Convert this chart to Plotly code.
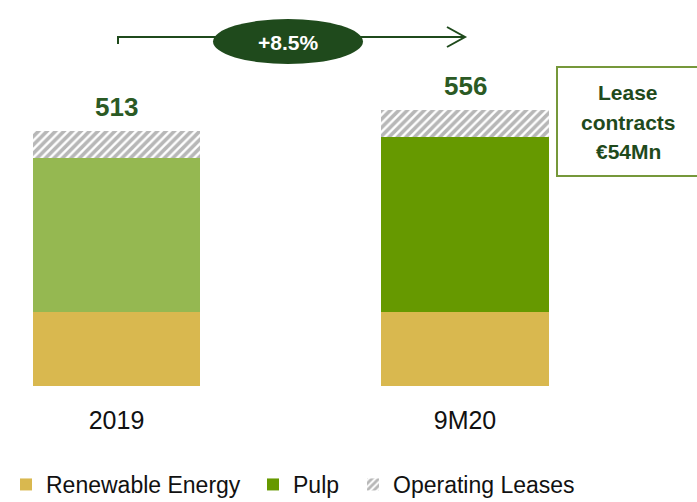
import plotly.graph_objects as go

# ---- data ----
categories = ["2019", "9M20"]
renewable_energy = [148, 148]
pulp = [311, 354]
operating_leases = [54, 54]
growth_label = "+8.5%"
lease_note = ["Lease", "contracts", "€54Mn"]

# ---- styles ----
W, H = 697, 502
PLOT_BOTTOM = 386  # pixel row of the value-0 baseline
C_RENEW = "#D9B84F"
C_PULP_2019 = "#95B851"
C_PULP = "#669900"
C_HATCH = "#707070"
C_DARK = "#1F4A1C"
C_LABEL = "#2B5A24"
C_BOX = "#76983A"
FONT = "Liberation Sans, Arial, sans-serif"


def px(x):
    return x / W


def py(y):
    return (PLOT_BOTTOM - y) / PLOT_BOTTOM


totals = [r + p + l for r, p, l in zip(renewable_energy, pulp, operating_leases)]

fig = go.Figure()
fig.add_trace(go.Bar(x=categories, y=renewable_energy, name="Renewable Energy",
                     legend="legend",
                     marker=dict(color=C_RENEW, line=dict(width=0)), width=0.48))
fig.add_trace(go.Bar(x=[categories[0]], y=[pulp[0]], name="Pulp", legendgroup="pulp",
                     showlegend=False, legend="legend2",
                     marker=dict(color=C_PULP_2019, line=dict(width=0)), width=0.48))
fig.add_trace(go.Bar(x=[categories[1]], y=[pulp[1]], name="Pulp", legendgroup="pulp",
                     legend="legend2",
                     marker=dict(color=C_PULP, line=dict(width=0)), width=0.48))
fig.add_trace(go.Bar(x=categories, y=operating_leases, name="Operating Leases",
                     legend="legend3",
                     marker=dict(color="white", line=dict(width=0),
                                 pattern=dict(shape="/", fgcolor=C_HATCH, bgcolor="white",
                                              size=6, solidity=0.6)),
                     width=0.48))

for i, t in enumerate(totals):
    fig.add_annotation(x=i, y=t, text=f"<b>{t}</b>", showarrow=False, yanchor="bottom",
                       yshift=7, font=dict(family=FONT, size=26, color=C_LABEL))

shapes = [
    # growth arrow
    dict(type="path", xref="paper", yref="paper",
         path=f"M {px(118)},{py(44)} L {px(118)},{py(37)} L {px(465)},{py(37)}",
         line=dict(color=C_DARK, width=2)),
    dict(type="path", xref="paper", yref="paper",
         path=f"M {px(447)},{py(27)} L {px(465)},{py(37)} L {px(447)},{py(47)}",
         line=dict(color=C_DARK, width=2)),
    dict(type="circle", xref="paper", yref="paper", x0=px(213), x1=px(363),
         y0=py(64), y1=py(19), fillcolor=C_DARK, line=dict(width=0)),
    # lease note box
    dict(type="rect", xref="paper", yref="paper", x0=px(557), x1=px(705),
         y0=py(176), y1=py(67), fillcolor="rgba(0,0,0,0)",
         line=dict(color=C_BOX, width=2)),
]
fig.add_annotation(xref="paper", yref="paper", x=px(288), y=py(42), xanchor="center",
                   yanchor="middle", text=f"<b>{growth_label}</b>",
                   showarrow=False, font=dict(family=FONT, size=21, color="white"))
for line_text, line_y in zip(lease_note, [93, 122, 152]):
    fig.add_annotation(xref="paper", yref="paper", x=px(628), y=py(line_y), xanchor="center",
                       yanchor="middle", text=f"<b>{line_text}</b>",
                       showarrow=False, font=dict(family=FONT, size=21, color=C_DARK))

leg_common = dict(orientation="h", xanchor="left", y=py(463), yanchor="top",
                  font=dict(family=FONT, size=23, color="#111111"),
                  bgcolor="rgba(0,0,0,0)")

fig.update_layout(
    width=W, height=H,
    barmode="stack",
    margin=dict(l=0, r=0, t=0, b=H - PLOT_BOTTOM, pad=0, autoexpand=False),
    plot_bgcolor="white", paper_bgcolor="white",
    shapes=shapes,
    showlegend=True,
    legend=dict(x=px(6), **leg_common),
    legend2=dict(x=px(253), **leg_common),
    legend3=dict(x=px(353), **leg_common),
    xaxis=dict(type="category", range=[-0.3343, 1.6657], showgrid=False, zeroline=False,
               showline=False, ticks="outside", ticklen=12, tickcolor="rgba(0,0,0,0)",
               tickfont=dict(family=FONT, size=25, color="#111111")),
    yaxis=dict(range=[0, 777], visible=False),
)

fig.write_html("out.html", post_script="document.body.style.margin='0';",
               config={"displayModeBar": False})
